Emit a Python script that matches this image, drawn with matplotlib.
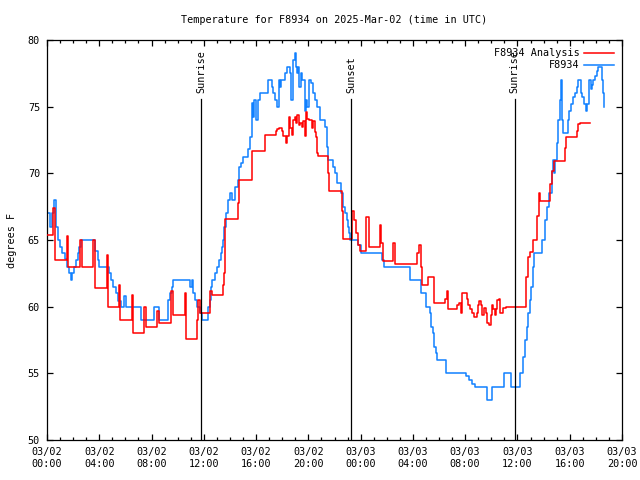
import numpy as np
import matplotlib
matplotlib.use("Agg")
import matplotlib.pyplot as plt
from matplotlib.ticker import MultipleLocator

plt.rcParams['font.family'] = ['DejaVu Sans Mono', 'DejaVu Sans']

# hours since 2025-03-02 00:00 UTC
obs_hours = [0.0, 0.23, 0.38, 0.54, 0.69, 0.84, 0.99, 1.15, 1.38, 1.53, 1.68, 1.84, 1.95, 2.07,
             2.22, 2.37, 2.45, 2.60, 3.67, 3.90, 3.98, 4.74, 4.90, 5.05, 5.28, 5.43, 5.66, 5.89,
             6.05, 7.19, 8.19, 8.57, 9.26, 9.41, 9.57, 9.64, 10.94, 11.10, 11.17, 11.33, 11.48,
             11.71, 11.86, 12.32, 12.47, 12.55, 12.63, 12.86, 13.01, 13.16, 13.32, 13.39, 13.47,
             13.54, 13.70, 13.85, 14.00, 14.16, 14.39, 14.62, 14.69, 14.85, 15.00, 15.38, 15.53,
             15.69, 15.76, 15.84, 15.99, 16.15, 16.30, 16.91, 17.22, 17.29, 17.45, 17.60, 17.75,
             17.83, 17.91, 18.21, 18.37, 18.60, 18.67, 18.82, 18.98, 19.05, 19.13, 19.21, 19.28,
             19.44, 19.51, 19.74, 19.82, 19.90, 20.05, 20.20, 20.35, 20.51, 20.66, 20.89, 21.27,
             21.43, 21.50, 21.89, 22.04, 22.19, 22.50, 22.65, 22.80, 22.96, 23.03, 23.11, 23.19,
             23.80, 24.03, 25.63, 25.79, 27.78, 28.62, 29.00, 29.31, 29.38, 29.54, 29.61, 29.77,
             29.84, 30.53, 32.06, 32.29, 32.52, 32.75, 33.67, 34.05, 34.97, 35.51, 36.19, 36.42,
             36.58, 36.73, 36.81, 36.96, 37.04, 37.19, 37.27, 37.86, 38.11, 38.24, 38.44, 38.62,
             38.70, 38.80, 38.87, 39.00, 39.13, 39.26, 39.33, 39.39, 39.51, 39.84, 39.97, 40.10,
             40.23, 40.40, 40.53, 40.66, 40.86, 40.96, 41.09, 41.25, 41.35, 41.50, 41.61, 41.68,
             41.80, 41.93, 42.06, 42.19, 42.45, 42.57, 42.65]
obs_temp = [67.0, 66.0, 67.0, 68.0, 66.0, 65.0, 64.5, 64.0, 63.6, 63.0, 62.5, 62.0, 62.5, 63.0,
            63.5, 64.0, 64.5, 65.0, 64.2, 63.5, 63.0, 62.5, 62.0, 61.5, 61.0, 60.4, 60.0, 60.8,
            60.0, 59.0, 60.0, 59.0, 60.5, 61.0, 61.5, 62.0, 61.5, 62.0, 61.0, 60.5, 60.0,
            59.5, 59.0, 60.0, 60.5, 61.5, 62.0, 62.5, 63.0, 63.5, 64.0, 64.5, 65.0,
            66.0, 67.0, 68.0, 68.5, 68.0, 69.0, 69.5, 70.5, 70.8, 71.2, 71.8, 72.7,
            75.3, 74.2, 75.5, 74.0, 75.5, 76.0, 77.0, 76.5, 76.0, 75.5, 75.0, 77.0,
            76.5, 77.0, 77.5, 78.0, 77.5, 75.5, 78.5, 79.0, 78.0, 77.5, 78.0, 76.5,
            77.5, 77.0, 74.7, 75.5, 75.0, 77.0, 76.8, 76.0, 75.5, 75.0, 74.0, 73.5,
            72.0, 71.0, 70.5, 70.0, 69.3, 68.5, 67.5, 67.0, 66.5, 66.0, 65.5, 65.0,
            64.6, 64.0, 63.5, 63.0, 62.0, 61.0, 60.0, 59.5, 58.5, 58.0, 57.0, 56.5,
            56.0, 55.0, 54.8, 54.5, 54.2, 54.0, 53.0, 54.0, 55.0, 54.0, 55.0, 56.2,
            57.5, 58.5, 59.5, 60.5, 61.5, 63.0, 64.0, 65.0, 66.5, 67.5, 68.5, 70.2,
            71.0, 70.0, 71.0, 72.3, 74.0, 75.5, 77.0, 74.0, 73.0, 74.0, 74.7, 75.2,
            75.7, 76.0, 76.5, 77.0, 76.0, 75.7, 75.2, 74.7, 75.2, 77.0, 76.3, 76.6,
            77.0, 77.3, 77.7, 78.0, 77.0, 76.0, 75.0]

ana_hours = [0.0, 0.46, 0.61, 1.51, 1.63, 2.53, 2.66, 3.54, 3.67, 4.57, 4.69, 5.51, 5.59, 6.48,
             6.60, 7.45, 7.58, 8.44, 8.59, 9.47, 9.66, 10.56, 10.64, 11.46, 11.58, 11.71, 12.47,
             12.60, 13.45, 13.54, 13.62, 14.59, 14.71, 15.66, 16.68, 17.52, 17.62, 17.75, 17.96,
             18.08, 18.29, 18.39, 18.52, 18.60, 18.73, 18.85, 18.98, 19.05, 19.15, 19.26, 19.36,
             19.49, 19.61, 19.74, 19.82, 19.92, 20.07, 20.26, 20.38, 20.51, 20.58, 20.64, 20.76,
             21.53, 21.60, 22.55, 22.63, 23.32, 23.49, 23.65, 23.82, 23.95, 24.41, 24.66, 25.48,
             25.56, 25.68, 26.50, 26.63, 28.34, 28.49, 28.60, 28.67, 29.18, 29.61, 30.46, 30.59,
             30.66, 31.40, 31.55, 31.66, 31.73, 31.99, 32.12, 32.24, 32.37, 32.50, 32.70, 32.88,
             32.96, 33.08, 33.21, 33.31, 33.46, 33.59, 33.69, 33.85, 33.98, 34.08, 34.15, 34.28,
             34.36, 34.46, 34.59, 34.67, 34.92, 35.13, 36.65, 36.78, 36.96, 37.17, 37.52, 37.63,
             37.73, 38.49, 38.62, 38.80, 39.64, 39.72, 40.53, 40.66, 40.79, 41.55]
ana_temp = [65.4, 67.4, 63.5, 65.3, 63.0, 65.0, 63.0, 65.0, 61.4, 63.9, 60.0, 61.6, 59.0, 60.9,
            58.0, 60.0, 58.5, 59.7, 58.8, 61.2, 59.4, 61.0, 57.6, 59.0, 60.5, 59.5, 61.2,
            60.9, 61.6, 62.5, 66.6, 67.8, 69.5, 71.7, 72.9, 73.2, 73.3, 73.4, 73.2,
            72.8, 72.3, 72.8, 74.2, 73.4, 72.9, 74.0, 74.2, 73.8, 74.4, 73.6, 73.8,
            73.5, 73.9, 72.8, 74.6, 74.1, 74.0, 73.4, 73.9, 73.1, 72.7, 71.5, 71.3,
            70.0, 68.7, 67.2, 65.1, 67.2, 66.5, 65.5, 64.6, 64.2, 66.7, 64.5, 66.1,
            64.8, 63.4, 64.8, 63.2, 64.0, 64.6, 63.0, 61.6, 62.2, 60.3, 60.6, 61.2,
            59.8, 60.1, 60.3, 59.5, 61.0, 61.0, 60.6, 60.1, 59.8, 59.5, 59.2, 59.5,
            60.1, 60.4, 60.1, 59.4, 59.9, 59.5, 58.8, 58.6, 59.4, 60.1, 59.8, 59.4,
            59.8, 60.5, 60.6, 59.5, 59.9, 60.0, 62.2, 63.7, 64.1, 65.0, 66.8, 68.5,
            67.9, 69.2, 70.2, 70.9, 71.9, 72.75, 73.2, 73.7, 73.8, 73.8]

sun_hours = [11.78, 23.26, 35.80]
sun_labels = ["Sunrise", "Sunset", "Sunrise"]

tick_hours = list(range(0, 45, 4))
tick_labels = ["03/02\n00:00", "03/02\n04:00", "03/02\n08:00", "03/02\n12:00",
               "03/02\n16:00", "03/02\n20:00", "03/03\n00:00", "03/03\n04:00",
               "03/03\n08:00", "03/03\n12:00", "03/03\n16:00", "03/03\n20:00"]

fig = plt.figure(figsize=(6.4, 4.8), dpi=100)
ax = fig.add_axes([47 / 640, 1 - 440 / 480, 575 / 640, 400 / 480])

ax.plot(ana_hours, ana_temp, drawstyle='steps-post', color='#ff0000', lw=1.1,
        label='F8934 Analysis', zorder=3)
ax.plot(obs_hours, obs_temp, drawstyle='steps-post', color='#1080ff', lw=1.1,
        label='F8934', zorder=2)

# sunrise / sunset markers
for h, lab in zip(sun_hours, sun_labels):
    ax.plot([h, h], [50, 75.6], color='black', lw=0.9, zorder=4)
    ax.text(h, 76.0, lab, rotation=90, ha='center', va='bottom', fontsize=7.3)

ax.set_xlim(0, 44)
ax.set_ylim(50, 80)
ax.set_xticks(tick_hours)
ax.set_xticklabels(tick_labels, fontsize=7.3)
ax.xaxis.set_minor_locator(MultipleLocator(1))
ax.yaxis.set_major_locator(MultipleLocator(5))
ax.tick_params(axis='y', labelsize=7.3)
ax.tick_params(which='both', direction='in', top=True, right=True, width=0.9)
ax.tick_params(which='major', length=4.5, pad=5)
ax.tick_params(which='minor', length=2.3)
for s in ax.spines.values():
    s.set_linewidth(0.9)

ax.set_title("Temperature for F8934 on 2025-Mar-02 (time in UTC)", fontsize=7.3, pad=12)
ax.set_ylabel("degrees F", fontsize=7.3, labelpad=8)

ax.legend(loc='upper right', frameon=False, markerfirst=False, fontsize=7.3,
          handlelength=2.9, handletextpad=0.5, labelspacing=0.2,
          borderaxespad=0.5, borderpad=0.3)

fig.savefig("out.png", dpi=100)
